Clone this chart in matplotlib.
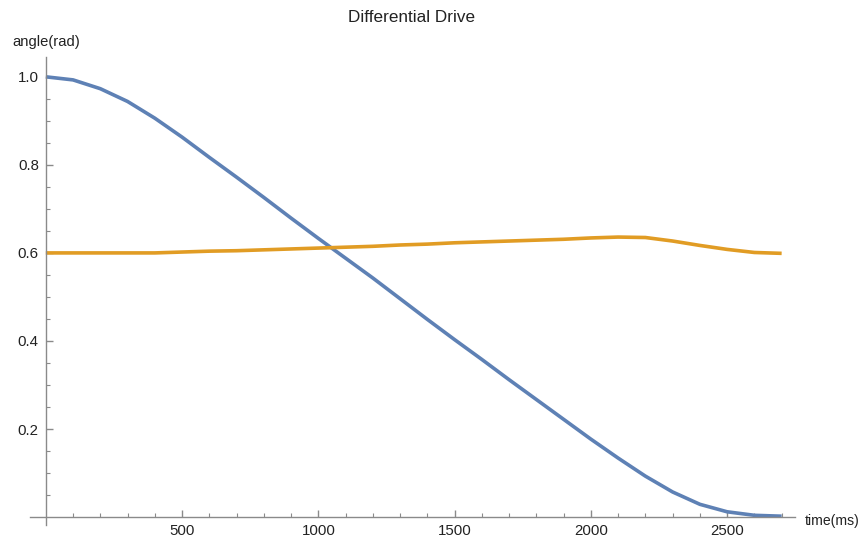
import matplotlib.pyplot as plt
from matplotlib.ticker import FixedLocator

plt.rcParams['font.family'] = ['Liberation Sans', 'DejaVu Sans']

# time in ms, sampled every 100 ms
time_ms = [0, 100, 200, 300, 400, 500, 600, 700, 800, 900, 1000, 1100, 1200, 1300,
           1400, 1500, 1600, 1700, 1800, 1900, 2000, 2100, 2200, 2300, 2400, 2500,
           2600, 2700]
angle_blue = [1.000, 0.993, 0.973, 0.944, 0.906, 0.863, 0.817, 0.772, 0.726, 0.679,
              0.633, 0.588, 0.543, 0.496, 0.449, 0.403, 0.358, 0.312, 0.267, 0.222,
              0.177, 0.134, 0.093, 0.057, 0.029, 0.012, 0.004, 0.002]
angle_orange = [0.600, 0.600, 0.600, 0.600, 0.600, 0.602, 0.604, 0.605, 0.607, 0.609,
                0.611, 0.613, 0.615, 0.618, 0.620, 0.623, 0.625, 0.627, 0.629, 0.631,
                0.634, 0.636, 0.635, 0.627, 0.617, 0.608, 0.601, 0.599]

x_ticks = [500, 1000, 1500, 2000, 2500]
y_ticks = [0.2, 0.4, 0.6, 0.8, 1.0]

fig = plt.figure(figsize=(8.61, 5.42), dpi=100)
ax = fig.add_axes([30 / 861, 1 - 525 / 542, (795 - 30) / 861, (525 - 57) / 542])

ax.plot(time_ms, angle_blue, color='#5E81B5', lw=2.6, solid_capstyle='butt')
ax.plot(time_ms, angle_orange, color='#E19C24', lw=2.6, solid_capstyle='butt')

ax.set_xlim(-58, 2749)
ax.set_ylim(-0.018, 1.045)

axis_col = '#8a8a8a'
for side in ['top', 'right']:
    ax.spines[side].set_visible(False)
ax.spines['left'].set_position(('data', 0))
ax.spines['bottom'].set_position(('data', 0))
for side in ['left', 'bottom']:
    ax.spines[side].set_color(axis_col)
    ax.spines[side].set_linewidth(1.0)

ax.xaxis.set_major_locator(FixedLocator(x_ticks))
ax.xaxis.set_minor_locator(FixedLocator([t for t in range(100, 2701, 100) if t % 500]))
ax.yaxis.set_major_locator(FixedLocator(y_ticks))
ax.yaxis.set_minor_locator(FixedLocator([round(0.05 * i, 2) for i in range(1, 21) if i % 4]))
ax.set_xticklabels([str(t) for t in x_ticks])
ax.set_yticklabels([f'{v:.1f}' for v in y_ticks])

ax.tick_params(which='major', direction='in', length=5, width=1, color=axis_col,
               labelsize=10.8, labelcolor='#222222', pad=5)
ax.tick_params(which='minor', direction='in', length=3, width=0.8, color=axis_col)

fig.text(412 / 861, 1 - 18 / 542, 'Differential Drive', ha='center', va='center',
         fontsize=12.3, color='#222222')
fig.text(12 / 861, 1 - 42 / 542, 'angle(rad)', ha='left', va='center',
         fontsize=10.6, color='#222222')
fig.text(805 / 861, 1 - 521 / 542, 'time(ms)', ha='left', va='center',
         fontsize=10.1, color='#222222')

plt.savefig('out.png', dpi=100)
plt.close()
